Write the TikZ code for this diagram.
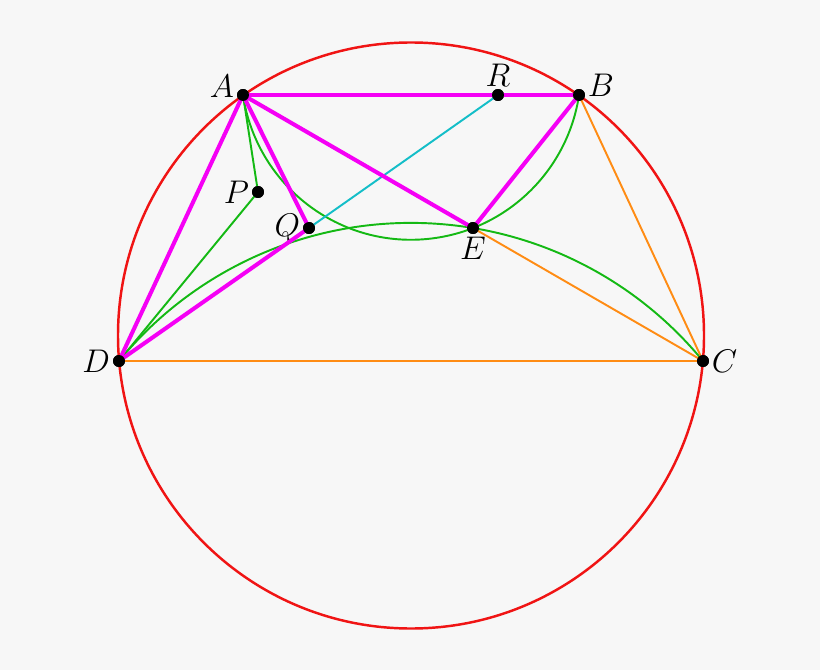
\documentclass[tikz,border=0pt]{standalone}
\usetikzlibrary{positioning}

\definecolor{bgcol}{RGB}{247,247,247}
\definecolor{circred}{RGB}{240,20,20}
\definecolor{segmag}{RGB}{245,0,245}
\definecolor{arcgreen}{RGB}{20,185,20}
\definecolor{segorange}{RGB}{255,140,20}
\definecolor{segcyan}{RGB}{20,190,200}

\begin{document}
\begin{tikzpicture}[x=0.02cm,y=0.02cm,
		pt/.style={circle,fill=black,inner sep=0pt,minimum size=6.8pt},
		circ/.style={circred,line width=1.4pt},
		chord/.style={segmag,line width=2.3pt},
		thin green/.style={arcgreen,line width=1.1pt},
		thin orange/.style={segorange,line width=1.1pt},
		thin cyan/.style={segcyan,line width=1.1pt},
		every label/.style={font=\LARGE,scale=1.08,inner sep=1.2pt}]

		\fill[bgcol] (0,0) rectangle (820,670);
		\useasboundingbox (0,0) rectangle (820,670);

		\coordinate (O) at (411,334.5);
		\draw[circ] (O) circle[radius=293];

		\node[pt,label={[yshift=4.5pt]left:$A$}] (A) at (243,575) {};
		\node[pt,label={[yshift=5pt]right:$B$}] (B) at (579,575) {};
		\node[pt,label={right:$C$}] (C) at (703,309) {};
		\node[pt,label={left:$D$}] (D) at (119,309) {};
		\node[pt,label={below:$E$}] (E) at (473,442) {};
		\node[pt,label={above:$R$}] (R) at (498,575) {};
		\node[pt,label={left:$P$}] (P) at (258,478) {};
		\node[pt,label={left:$Q$}] (Q) at (309,442) {};

		% arcs through E
		\draw[thin green] (A.center) arc[start angle=188.51,end angle=351.49,radius=169.9];
		\draw[thin green] (D.center) arc[start angle=140.63,end angle=39.37,radius=377.7];

		\draw[thin green] (A.center) -- (P.center) -- (D.center);
		\draw[thin orange] (D.center) -- (C.center);
		\draw[thin orange] (E.center) -- (C.center);
		\draw[thin orange] (B.center) -- (C.center);
		\draw[thin cyan] (Q.center) -- (R.center);

		\draw[chord] (A.center) -- (B.center);
		\draw[chord] (A.center) -- (D.center);
		\draw[chord] (A.center) -- (E.center) -- (B.center);
		\draw[chord] (A.center) -- (Q.center) -- (D.center);

		\foreach \X in {A,B,C,D,E,R,P,Q}
		{
			\fill (\X) circle[radius=3.4pt];
		}

	\end{tikzpicture}
\end{document}
